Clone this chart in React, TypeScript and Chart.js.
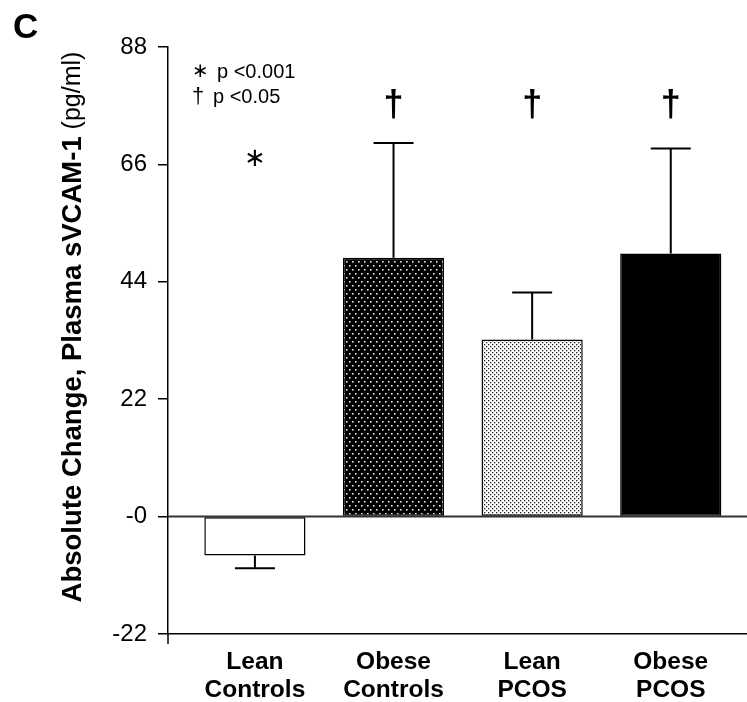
import React, { useEffect, useRef } from "react";
import { Chart, registerables } from "chart.js";

Chart.register(...registerables);

const categories: string[][] = [["Lean", "Controls"], ["Obese", "Controls"], ["Lean", "PCOS"], ["Obese", "PCOS"]];
const positions: number[] = [1, 2, 3, 4];
const means: number[] = [-7.3, 48.5, 33.2, 49.3];
const errors: number[] = [2.4, 21.5, 8.8, 19.7];
const markers: string[] = ["∗", "†", "†", "†"];
const markerValues: number[] = [67, 77, 77, 77];
const yTicks: number[] = [-22, 0, 22, 44, 66, 88];
const legendLines: string[][] = [["∗", "p <0.001"], ["†", "p <0.05"]];
const yTitleBold = "Absolute Change, Plasma sVCAM-1";
const yTitleNormal = " (pg/ml)";
const panelLabel = "C";

const FONT = "'Liberation Sans', Arial, Helvetica, sans-serif";

function makePattern(bg: string, dot: string, w: number, h: number, dots: number[][], size: number) {
  const c = document.createElement("canvas");
  c.width = w;
  c.height = h;
  const g = c.getContext("2d")!;
  g.fillStyle = bg;
  g.fillRect(0, 0, w, h);
  g.fillStyle = dot;
  dots.forEach(([x, y]) => g.fillRect(x, y, size, size));
  return g.createPattern(c, "repeat")!;
}

export default function App() {
  const ref = useRef<HTMLCanvasElement>(null);
  useEffect(() => {
    document.body.style.margin = "0";
    const canvas = ref.current!;
    const ctx = canvas.getContext("2d")!;
    const darkDots = makePattern("#000", "#e8e8e8", 6, 8, [[1, 1], [4, 5]], 1.6);
    const lightDots = makePattern("#fff", "#222", 4, 4, [[0, 0], [2, 2]], 1.3);
    const fills: any[] = ["#ffffff", darkDots, lightDots, "#000000"];

    const overlay = {
      id: "overlay",
      beforeDatasetsDraw(chart: any) {
        const c = chart.ctx;
        const { left, right, bottom } = chart.chartArea;
        const y0 = chart.scales.y.getPixelForValue(0);
        c.save();
        c.strokeStyle = "#333";
        c.lineWidth = 2;
        c.beginPath();
        c.moveTo(left, y0);
        c.lineTo(right, y0);
        c.stroke();
        c.strokeStyle = "#000";
        c.lineWidth = 1.5;
        c.beginPath();
        c.moveTo(left, bottom);
        c.lineTo(left, bottom + 10);
        c.stroke();
        c.restore();
      },
      afterDatasetsDraw(chart: any) {
        const c = chart.ctx;
        const ys = chart.scales.y;
        const meta = chart.getDatasetMeta(0);
        c.save();
        c.strokeStyle = "#000";
        c.lineWidth = 2;
        meta.data.forEach((el: any, i: number) => {
          const v = means[i];
          const s = v < 0 ? -1 : 1;
          const yb = ys.getPixelForValue(v);
          const ye = ys.getPixelForValue(v + s * errors[i]);
          c.beginPath();
          c.moveTo(el.x, yb);
          c.lineTo(el.x, ye);
          c.moveTo(el.x - 20, ye);
          c.lineTo(el.x + 20, ye);
          c.stroke();
          c.fillStyle = "#000";
          c.textAlign = "center";
          c.textBaseline = "middle";
          const isStar = markers[i] === "∗";
          c.font = isStar ? `26px 'DejaVu Sans', ${FONT}` : `bold 36px ${FONT}`;
          c.fillText(markers[i], el.x, ys.getPixelForValue(markerValues[i]));
        });
        const { left, top } = chart.chartArea;
        legendLines.forEach((ln, k) => {
          const y = top + 25 + k * 25;
          c.textAlign = "left";
          c.textBaseline = "middle";
          c.font = k === 0 ? `20px 'DejaVu Sans', ${FONT}` : `22px ${FONT}`;
          c.fillText(ln[0], left + 24, y);
          c.font = `20px ${FONT}`;
          c.fillText(ln[1], left + (k === 0 ? 49 : 45), y);
        });
        c.save();
        c.translate(73, 327);
        c.rotate(-Math.PI / 2);
        c.textBaseline = "middle";
        c.font = `bold 27.5px ${FONT}`;
        const wb = c.measureText(yTitleBold).width;
        c.font = `25px ${FONT}`;
        const wn = c.measureText(yTitleNormal).width;
        const start = -(wb + wn) / 2;
        c.textAlign = "left";
        c.font = `bold 27.5px ${FONT}`;
        c.fillText(yTitleBold, start, 0);
        c.font = `25px ${FONT}`;
        c.fillText(yTitleNormal, start + wb, 0);
        c.restore();
        c.font = `bold 35px ${FONT}`;
        c.textAlign = "left";
        c.textBaseline = "alphabetic";
        c.fillText(panelLabel, 13, 38);
        c.restore();
      },
    };

    const chart = new Chart(ctx, {
      type: "bar",
      data: {
        datasets: [
          {
            data: positions.map((x, i) => ({ x, y: means[i] })),
            backgroundColor: fills,
            borderColor: "#000",
            borderWidth: 1.5,
            borderSkipped: false,
            categoryPercentage: 1,
            barPercentage: 0.73,
          } as any,
        ],
      },
      options: {
        animation: false,
        responsive: false,
        events: [],
        layout: { padding: { top: 47, right: 0, left: 0, bottom: 0 } },
        plugins: { legend: { display: false }, tooltip: { enabled: false }, title: { display: false } },
        scales: {
          x: {
            type: "linear",
            offset: false,
            min: 0.373,
            max: 4.55,
            grid: { display: false, offset: false },
            border: { display: true, color: "#000", width: 1.5 },
            afterBuildTicks: (s: any) => {
              s.ticks = positions.map((v) => ({ value: v }));
            },
            afterFit: (s: any) => {
              s.height = 68;
            },
            ticks: {
              color: "#000",
              font: { family: FONT, size: 24.5, weight: "bold", lineHeight: 1.15 },
              padding: 6,
              maxRotation: 0,
              autoSkip: false,
              callback: (_v: any, i: number) => categories[i],
            },
          },
          y: {
            type: "linear",
            min: -22,
            max: 88,
            afterBuildTicks: (s: any) => {
              s.ticks = yTicks.map((v) => ({ value: v }));
            },
            afterFit: (s: any) => {
              s.width = 168;
            },
            grid: { display: true, drawOnChartArea: false, drawTicks: true, tickLength: 10, color: "#000", lineWidth: 1.5 },
            border: { display: true, color: "#000", width: 1.5 },
            ticks: {
              color: "#000",
              font: { family: FONT, size: 24 },
              padding: 11,
              callback: (v: any) => (v === 0 ? "-0" : String(v)),
            },
          },
        },
      } as any,
      plugins: [overlay],
    });
    return () => chart.destroy();
  }, []);
  return (
    <div style={{ width: 747, height: 702 }}>
      <canvas ref={ref} width={747} height={702} />
    </div>
  );
}
